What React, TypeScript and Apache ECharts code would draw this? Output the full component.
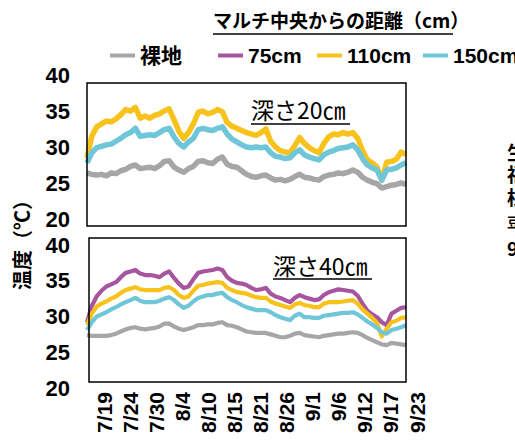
import React, { useEffect, useRef } from "react";
import * as echarts from "echarts";

const DATE_LABELS = ["7/19", "7/24", "7/30", "8/4", "8/10", "8/15", "8/21", "8/26", "9/1", "9/6", "9/12", "9/17", "9/23"];

// daily values, 7/19 .. 9/23 (67 days)
// depth 20cm
const bare20 = [26.4, 26.2, 26.1, 26.2, 26.0, 26.4, 26.3, 26.7, 26.9, 27.3, 27.5, 27.0, 27.1, 27.2, 27.0, 27.4, 28.0, 28.1, 27.2, 26.8, 26.5, 27.0, 27.3, 28.0, 28.1, 27.8, 27.7, 28.3, 28.6, 27.6, 27.3, 27.2, 26.7, 26.2, 25.9, 25.8, 26.0, 26.1, 25.7, 25.4, 25.5, 25.3, 25.5, 25.9, 26.2, 25.8, 25.7, 25.5, 25.4, 25.9, 26.1, 26.2, 26.4, 26.3, 26.5, 26.8, 26.5, 25.8, 25.4, 25.1, 24.9, 24.3, 24.5, 24.7, 24.8, 25.0, 24.8];
const cm110_20 = [28.5, 31.5, 32.8, 33.2, 33.6, 33.5, 33.9, 34.5, 35.2, 35.0, 35.5, 34.0, 34.3, 34.0, 34.4, 34.6, 35.0, 35.3, 33.8, 32.2, 31.2, 32.0, 33.2, 34.8, 35.0, 34.6, 34.8, 35.2, 34.9, 33.4, 32.9, 32.6, 32.3, 32.0, 31.8, 31.6, 32.0, 32.5, 30.8, 30.0, 29.5, 29.3, 29.2, 30.2, 31.3, 30.5, 29.9, 29.5, 29.2, 30.5, 31.4, 31.8, 31.7, 32.0, 31.8, 32.0, 31.2, 29.5, 28.2, 27.8, 27.2, 25.4, 27.9, 28.0, 28.3, 29.3, 29.0];
const cm150_20 = [27.8, 29.2, 29.9, 30.1, 30.3, 30.4, 30.8, 31.2, 31.7, 32.0, 32.6, 31.5, 31.6, 31.7, 31.6, 32.0, 32.4, 32.6, 31.4, 30.5, 30.0, 30.7, 31.2, 32.4, 32.6, 32.4, 32.3, 32.6, 32.8, 31.8, 31.1, 30.7, 30.3, 30.0, 29.9, 30.0, 29.9, 30.0, 29.2, 28.7, 28.6, 28.4, 28.5, 29.2, 29.6, 28.9, 28.6, 28.4, 28.2, 28.9, 29.3, 29.5, 29.8, 29.9, 30.0, 30.3, 29.6, 28.4, 27.5, 27.1, 26.8, 25.4, 26.8, 26.9, 27.1, 27.5, 27.8];

// depth 40cm
const bare40 = [27.4, 27.3, 27.3, 27.3, 27.3, 27.4, 27.6, 27.9, 28.2, 28.4, 28.5, 28.3, 28.2, 28.3, 28.4, 28.6, 29.0, 29.0, 28.6, 28.3, 28.1, 28.3, 28.5, 28.8, 28.8, 28.9, 28.9, 29.1, 29.2, 28.8, 28.7, 28.5, 28.2, 27.9, 27.8, 27.7, 27.7, 27.7, 27.5, 27.3, 27.1, 27.1, 27.3, 27.6, 27.7, 27.4, 27.3, 27.2, 27.1, 27.3, 27.4, 27.5, 27.6, 27.6, 27.7, 27.8, 27.7, 27.4, 27.0, 26.7, 26.4, 26.1, 26.0, 26.3, 26.2, 26.1, 26.0];
const cm75_40 = [29.2, 31.5, 32.8, 33.6, 34.2, 34.5, 34.8, 35.5, 36.1, 36.3, 36.5, 36.0, 35.8, 35.8, 35.7, 35.5, 36.0, 36.3, 35.4, 34.6, 34.0, 34.2, 35.2, 36.1, 36.3, 36.4, 36.5, 36.7, 36.5, 35.5, 35.0, 34.7, 34.6, 34.4, 34.0, 33.7, 33.8, 34.0, 33.2, 32.8, 32.6, 32.3, 32.0, 32.6, 33.0, 32.7, 32.5, 32.3, 32.4, 33.0, 33.4, 33.6, 33.8, 33.7, 33.6, 33.5, 32.9, 31.8, 30.8, 30.3, 29.9, 29.2, 28.8, 30.4, 30.8, 31.2, 31.3];
const cm110_40 = [28.8, 30.4, 31.4, 31.8, 32.1, 32.5, 32.8, 33.3, 33.7, 33.9, 34.1, 33.8, 33.7, 33.7, 33.7, 33.7, 34.0, 34.1, 33.7, 33.0, 32.6, 32.8, 33.6, 34.3, 34.4, 34.6, 34.7, 34.8, 34.7, 34.0, 33.7, 33.4, 33.3, 33.2, 32.9, 32.7, 32.6, 32.6, 32.1, 31.8, 31.6, 31.4, 31.2, 31.7, 31.9, 31.6, 31.5, 31.3, 31.3, 31.8, 32.0, 32.0, 32.0, 32.1, 32.2, 32.3, 31.8, 31.0, 30.4, 29.8, 29.1, 27.2, 28.3, 29.2, 29.4, 29.8, 29.9];
const cm150_40 = [28.1, 29.2, 30.0, 30.3, 30.6, 31.0, 31.3, 31.7, 32.0, 32.3, 32.6, 32.2, 32.0, 32.0, 32.0, 32.2, 32.5, 32.7, 32.3, 31.7, 31.2, 31.5, 32.1, 32.6, 32.8, 33.0, 33.0, 33.2, 33.3, 32.7, 32.3, 32.0, 31.6, 31.3, 31.1, 30.9, 30.9, 30.9, 30.6, 30.2, 29.9, 29.7, 29.5, 30.1, 30.4, 29.9, 29.9, 29.8, 29.8, 30.1, 30.2, 30.3, 30.4, 30.5, 30.5, 30.6, 30.3, 29.8, 29.3, 28.9, 28.4, 27.8, 27.6, 28.1, 28.3, 28.5, 28.8];

const C_GRAY = "#A6A6A6";
const C_PURPLE = "#A6559E";
const C_YELLOW = "#F8C21C";
const C_CYAN = "#6EC6D8";

const NUM_FONT = "'Liberation Sans', Arial, sans-serif";
const JP_FONT = "'Noto Sans CJK JP', sans-serif";

const pairs = (arr: number[]) => arr.map((v, i) => [i, v]);

export default function App() {
  const ref = useRef<HTMLDivElement>(null);
  useEffect(() => {
    if (!ref.current) return;
    const chart = echarts.init(ref.current, null, { renderer: "svg" });
    const yAxisBase = {
      type: "value",
      min: 20,
      max: 40,
      interval: 5,
      axisLine: { show: false },
      axisTick: { show: false },
      splitLine: { show: false },
      axisLabel: { color: "#000", fontSize: 22, fontWeight: "bold", fontFamily: NUM_FONT, margin: 17 },
    };
    const xHidden = { type: "value", min: 0, max: 66, show: false };
    const line = (name: string, data: number[], color: string, xi: number, width: number) => ({
      name,
      type: "line",
      xAxisIndex: xi,
      yAxisIndex: xi,
      data: pairs(data),
      symbol: "none",
      lineStyle: { color, width, join: "round" },
      itemStyle: { color },
      emphasis: { disabled: true },
    });
    const legendBase = {
      top: 40,
      itemWidth: 25,
      itemHeight: 4,
      icon: "rect",
      itemGap: 5,
      textStyle: { color: "#000", fontSize: 21, fontWeight: "bold", fontFamily: `'Liberation Sans', ${JP_FONT}` },
      selectedMode: false,
    };
    const cut = (ch: string, top: number, size: number) => ({
      type: "text",
      left: 507,
      top,
      style: { text: ch, fill: "#000", font: `bold ${size}px ${JP_FONT}`, lineHeight: size },
    });
    chart.setOption({
      animation: false,
      backgroundColor: "#fff",
      grid: [
        { left: 87, width: 319, top: 75, height: 144 },
        { left: 87, width: 319, top: 245, height: 143 },
        { left: 104, width: 313, top: 245, height: 143 },
      ],
      xAxis: [
        { ...xHidden, gridIndex: 0 },
        { ...xHidden, gridIndex: 1 },
        {
          type: "category",
          gridIndex: 2,
          data: DATE_LABELS,
          boundaryGap: false,
          axisLine: { show: false },
          axisTick: { show: false },
          axisLabel: { rotate: 90, interval: 0, color: "#000", fontSize: 21, fontWeight: "bold", fontFamily: NUM_FONT, margin: 4 },
        },
      ],
      yAxis: [
        { ...yAxisBase, gridIndex: 0 },
        { ...yAxisBase, gridIndex: 1 },
        { type: "value", gridIndex: 2, show: false, min: 20, max: 40 },
      ],
      legend: [
        { ...legendBase, left: 105, data: ["裸地"] },
        { ...legendBase, left: 213, data: ["75cm"] },
        { ...legendBase, left: 312, data: ["110cm"] },
        { ...legendBase, left: 418, data: ["150cm"] },
      ],
      series: [
        line("裸地", bare20, C_GRAY, 0, 5.5),
        line("110cm", cm110_20, C_YELLOW, 0, 5.5),
        line("150cm", cm150_20, C_CYAN, 0, 5.5),
        line("裸地", bare40, C_GRAY, 1, 4.2),
        line("75cm", cm75_40, C_PURPLE, 1, 4.2),
        line("110cm", cm110_40, C_YELLOW, 1, 4.2),
        line("150cm", cm150_40, C_CYAN, 1, 4.2),
      ],
      graphic: [
        { type: "rect", shape: { x: 87, y: 83, width: 319, height: 143 }, style: { fill: "none", stroke: "#000", lineWidth: 1.5 }, z: 10 },
        { type: "rect", shape: { x: 89, y: 238, width: 317, height: 144 }, style: { fill: "none", stroke: "#000", lineWidth: 1.5 }, z: 10 },
        { type: "text", left: 213, top: 10, style: { text: "マルチ中央からの距離（cm）", fill: "#000", font: `bold 19px ${JP_FONT}` } },
        { type: "line", shape: { x1: 213, y1: 34, x2: 453, y2: 34 }, style: { stroke: "#000", lineWidth: 1.5 } },
        { type: "text", left: 251, top: 97, style: { text: "深さ20㎝", fill: "#000", font: `23px ${JP_FONT}` }, z: 11 },
        { type: "line", shape: { x1: 251, y1: 124, x2: 350, y2: 124 }, style: { stroke: "#000", lineWidth: 1.5 }, z: 11 },
        { type: "text", left: 273, top: 253, style: { text: "深さ40㎝", fill: "#000", font: `23px ${JP_FONT}` }, z: 11 },
        { type: "line", shape: { x1: 273, y1: 279, x2: 372, y2: 279 }, style: { stroke: "#000", lineWidth: 1.5 }, z: 11 },
        { type: "text", x: 21, y: 240, rotation: Math.PI / 2, style: { text: "温度（℃）", fill: "#000", font: `bold 20px ${JP_FONT}`, align: "center", verticalAlign: "middle" } },
        cut("生", 142, 19),
        cut("福", 164, 19),
        cut("根", 187, 19),
        cut("豆", 215, 13),
        cut("9", 238, 19),
      ],
    });
    return () => chart.dispose();
  }, []);
  return <div ref={ref} style={{ position: "fixed", left: 0, top: 0, width: 515, height: 444 }} />;
}
